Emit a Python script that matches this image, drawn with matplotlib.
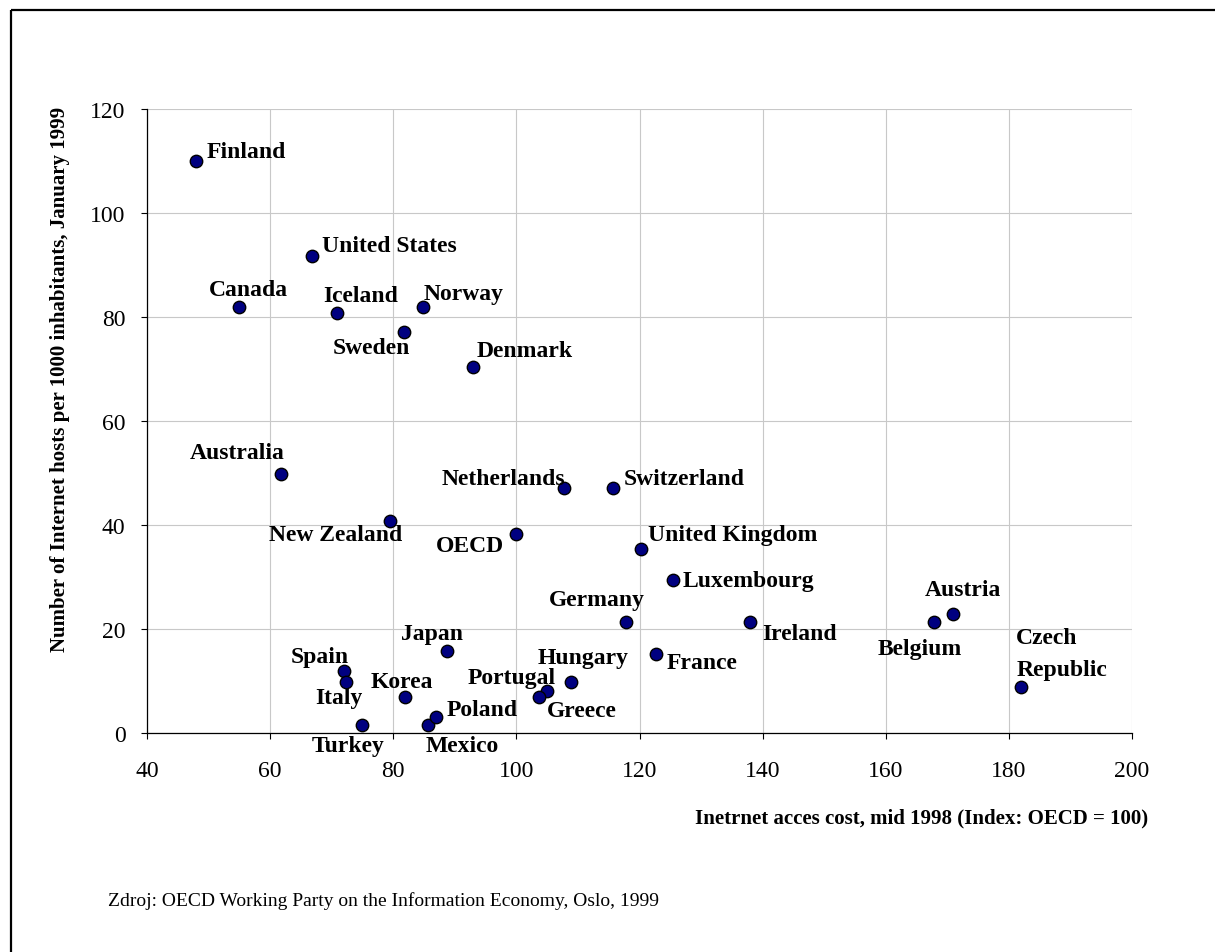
import matplotlib
matplotlib.use("Agg")
import matplotlib.pyplot as plt
from matplotlib.lines import Line2D

plt.rcParams["font.family"] = ["Liberation Serif", "DejaVu Serif"]

# Internet access cost (index, OECD = 100) and Internet hosts per 1000 inhabitants
countries = [
    "Finland", "United States", "Canada", "Iceland", "Norway", "Sweden",
    "Denmark", "Australia", "New Zealand", "OECD", "Netherlands",
    "Switzerland", "United Kingdom", "Luxembourg", "Germany", "France",
    "Ireland", "Belgium", "Austria", "Czech\nRepublic", "Japan", "Spain",
    "Italy", "Korea", "Turkey", "Mexico", "Poland", "Portugal", "Greece",
    "Hungary",
]
access_cost = [
    48.0, 66.8, 54.9, 70.8, 84.8, 81.8,
    93.0, 61.8, 79.4, 100.0, 107.8,
    115.7, 120.2, 125.5, 117.8, 122.6,
    138.0, 167.9, 170.9, 182.0, 88.8, 72.0,
    72.4, 81.9, 75.0, 85.7, 86.9, 104.9, 103.6,
    108.8,
]
hosts_per_1000 = [
    110.0, 91.7, 81.9, 80.8, 81.9, 77.2,
    70.3, 49.9, 40.8, 38.2, 47.1,
    47.1, 35.3, 29.5, 21.3, 15.1,
    21.3, 21.3, 22.8, 8.9, 15.8, 11.9,
    9.9, 7.0, 1.6, 1.6, 3.1, 8.1, 7.0,
    9.9,
]

x_ticks = [40, 60, 80, 100, 120, 140, 160, 180, 200]
y_ticks = [0, 20, 40, 60, 80, 100, 120]

x_title = "Inetrnet acces cost, mid 1998 (Index: OECD = 100)"
y_title = "Number of Internet hosts per 1000 inhabitants, January 1999"
source_note = "Zdroj: OECD Working Party on the Information Economy, Oslo, 1999"

# label placement: (dx px, baseline dy px of last line, horizontal alignment)
label_pos = {
    "Finland": (10, 4, "left"),
    "United States": (10, 5, "left"),
    "Canada": (10, 12, "center"),
    "Iceland": (24, 12, "center"),
    "Norway": (1, 8, "left"),
    "Sweden": (6, -21, "right"),
    "Denmark": (3, 11, "left"),
    "Australia": (3, 16, "right"),
    "New Zealand": (13, -19, "right"),
    "OECD": (-12, -17, "right"),
    "Netherlands": (1, 4, "right"),
    "Switzerland": (11, 4, "left"),
    "United Kingdom": (7, 9, "left"),
    "Luxembourg": (9, -6, "left"),
    "Germany": (19, 17, "right"),
    "France": (11, -14, "left"),
    "Ireland": (12, -17, "left"),
    "Belgium": (-15, -32, "center"),
    "Austria": (10, 19, "center"),
    "Czech\nRepublic": (-5, 12, "left"),
    "Japan": (-15, 12, "center"),
    "Spain": (5, 9, "right"),
    "Italy": (-8, -21, "center"),
    "Korea": (-3, 10, "center"),
    "Turkey": (-14, -26, "center"),
    "Mexico": (34, -26, "center"),
    "Poland": (11, 2, "left"),
    "Portugal": (9, 8, "right"),
    "Greece": (8, -19, "left"),
    "Hungary": (13, 19, "center"),
}

W, H = 1216, 953
fig = plt.figure(figsize=(W / 100, H / 100), dpi=100)
ax = fig.add_axes([147 / W, (H - 734) / H, (1132 - 147) / W, (734 - 110) / H])

ax.scatter(access_cost, hosts_per_1000, s=80, facecolor="#000080",
           edgecolor="black", linewidth=1.0, zorder=3, clip_on=False)

for name, xv, yv in zip(countries, access_cost, hosts_per_1000):
    dx, dy, ha = label_pos[name]
    ax.annotate(name, (xv, yv), xytext=(dx, dy), textcoords="offset pixels",
                ha=ha, va="baseline", fontsize=17, fontweight="bold",
                linespacing=1.7, multialignment="left", zorder=4)

ax.set_xlim(40, 200)
ax.set_ylim(0, 120)
ax.set_xticks(x_ticks)
ax.set_yticks(y_ticks)
ax.set_xticklabels([str(v) for v in x_ticks])
ax.set_yticklabels([str(v) for v in y_ticks])
ax.tick_params(axis="both", direction="out", length=4.5, width=0.8,
               labelsize=17, color="black")
ax.tick_params(axis="x", pad=15)
ax.tick_params(axis="y", pad=11)

ax.grid(True, color="#c8c8c8", linewidth=0.8, zorder=0)
ax.set_axisbelow(True)
for side in ("top", "right"):
    ax.spines[side].set_visible(False)
for side in ("left", "bottom"):
    ax.spines[side].set_color("black")
    ax.spines[side].set_linewidth(0.9)

fig.text(60.5 / W, 1 - 379 / H, y_title, rotation=90, ha="center",
         va="center", fontsize=15, fontweight="bold")
fig.text(1148 / W, 1 - 818 / H, x_title, ha="right", va="center",
         fontsize=15, fontweight="bold")
fig.text(108 / W, 1 - 901 / H, source_note, ha="left", va="center",
         fontsize=14)

# outer frame (top and left edges)
fig.add_artist(Line2D([11 / W, 1215 / W], [1 - 11 / H, 1 - 11 / H],
                      transform=fig.transFigure, color="black", linewidth=1.6,
                      solid_capstyle="butt"))
fig.add_artist(Line2D([11 / W, 11 / W], [1 - 11 / H, 0],
                      transform=fig.transFigure, color="black", linewidth=1.6,
                      solid_capstyle="butt"))

fig.savefig("out.png", dpi=100, facecolor="white")
